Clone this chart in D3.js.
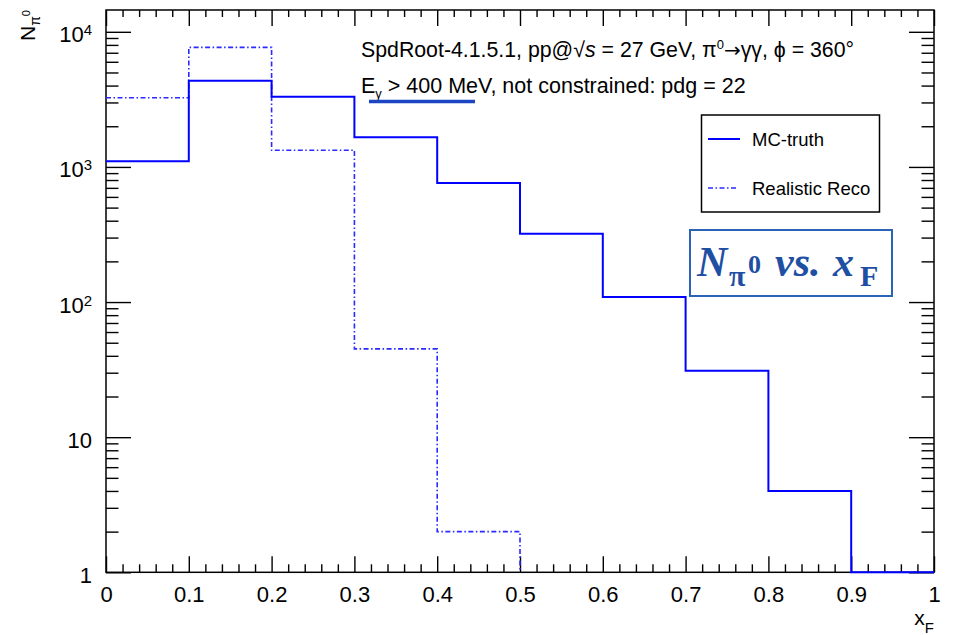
<!DOCTYPE html>
<html>
<head>
<meta charset="utf-8">
<script src="https://cdn.jsdelivr.net/npm/d3@7"></script>
<style>
  body { margin: 0; background: #fff; }
  svg { display: block; font-family: "Liberation Sans", Arial, Helvetica, sans-serif; }
</style>
</head>
<body>
<svg id="chart" width="954" height="635"></svg>
<script>
// histogram contents, bins of 0.1 in x_F
const binEdges = [0, 0.1, 0.2, 0.3, 0.4, 0.5, 0.6, 0.7, 0.8, 0.9, 1.0];
const mcTruth = [1100, 4340, 3300, 1660, 760, 320, 109, 31, 4, 0];
const realisticReco = [3250, 7670, 1330, 45, 2, 0, 0, 0, 0, 0];

const xMajorTicks = [0, 0.1, 0.2, 0.3, 0.4, 0.5, 0.6, 0.7, 0.8, 0.9, 1];
const yMajorTicks = [1, 10, 100, 1000, 10000];
const yDomain = [1, 14500];

const legendLabels = ["MC-truth", "Realistic Reco"];

const padL = 106, padR = 934, padT = 10, padB = 572.3;

const svg = d3.select("#chart");

const x = d3.scaleLinear().domain([0, 1]).range([padL, padR]);
const y = d3.scaleLog().domain(yDomain).range([padB, padT]);

function yv(v) {
    return v > 0 ? y(v) : padB;
}

// step outline for a histogram, stops after last filled bin
function histPoints(vals, dropAtEnd) {
    let last = vals.length - 1;
    if (dropAtEnd) {
        while (last > 0 && vals[last] <= 0) last--;
    }
    const pts = [];
    for (let i = 0; i <= last; i++) pts.push([binEdges[i], vals[i]]);
    if (dropAtEnd) pts.push([binEdges[last + 1], 0]);
    else pts.push([binEdges[last + 1], vals[last]]);
    return pts;
}

// ---- axes (ROOT style, ticks inside on all four sides)
const xMinor = x.ticks(50).filter(t => !xMajorTicks.some(m => Math.abs(m - t) < 1e-9));
const yMinor = y.ticks().filter(t => !yMajorTicks.includes(t));

function styleAxis(g) {
    g.select(".domain").remove();
    g.selectAll("line").attr("stroke", "#000").attr("stroke-width", 1.4);
}

const xAxis = svg.append("g")
    .attr("transform", `translate(0,${padB})`)
    .call(d3.axisBottom(x).tickValues(xMajorTicks).tickSizeInner(-16).tickSizeOuter(0)
        .tickPadding(14).tickFormat(d => d3.format("")(d)))
    .call(styleAxis);
xAxis.selectAll("text")
    .attr("font-size", 22)
    .attr("font-family", "Liberation Sans, Arial, sans-serif")
    .attr("fill", "#000");

svg.append("g")
    .attr("transform", `translate(0,${padB})`)
    .call(d3.axisBottom(x).tickValues(xMinor).tickSizeInner(-8).tickSizeOuter(0).tickFormat(""))
    .call(styleAxis);

svg.append("g")
    .attr("transform", `translate(0,${padT})`)
    .call(d3.axisTop(x).tickValues(xMajorTicks).tickSizeInner(-16).tickSizeOuter(0).tickFormat(""))
    .call(styleAxis);
svg.append("g")
    .attr("transform", `translate(0,${padT})`)
    .call(d3.axisTop(x).tickValues(xMinor).tickSizeInner(-7).tickSizeOuter(0).tickFormat(""))
    .call(styleAxis);

const yAxis = svg.append("g")
    .attr("transform", `translate(${padL},0)`)
    .call(d3.axisLeft(y).tickValues(yMajorTicks).tickSizeInner(-25).tickSizeOuter(0)
        .tickPadding(14).tickFormat(""))
    .call(styleAxis);
yAxis.selectAll(".tick text")
    .attr("font-size", 22)
    .attr("dy", 10)
    .attr("fill", "#000")
    .each(function(d) {
        const t = d3.select(this);
        const e = Math.round(Math.log10(d));
        if (e < 2) {
            t.text(d);
        } else {
            t.append("tspan").text("10");
            t.append("tspan").attr("font-size", 15).attr("dy", -7).text(e);
        }
    });

svg.append("g")
    .attr("transform", `translate(${padL},0)`)
    .call(d3.axisLeft(y).tickValues(yMinor).tickSizeInner(-12.5).tickSizeOuter(0).tickFormat(""))
    .call(styleAxis);

svg.append("g")
    .attr("transform", `translate(${padR},0)`)
    .call(d3.axisRight(y).tickValues(yMajorTicks).tickSizeInner(-25).tickSizeOuter(0).tickFormat(""))
    .call(styleAxis);
svg.append("g")
    .attr("transform", `translate(${padR},0)`)
    .call(d3.axisRight(y).tickValues(yMinor).tickSizeInner(-12.5).tickSizeOuter(0).tickFormat(""))
    .call(styleAxis);

// frame
svg.append("rect")
    .attr("x", padL).attr("y", padT)
    .attr("width", padR - padL).attr("height", padB - padT)
    .attr("fill", "none")
    .attr("stroke", "#000")
    .attr("stroke-width", 1.5);

// histograms, drawn over the frame like ROOT does
const stepLine = d3.line()
    .x(d => x(d[0]))
    .y(d => yv(d[1]))
    .curve(d3.curveStepAfter);

svg.append("path")
    .attr("d", stepLine(histPoints(realisticReco, true)))
    .attr("fill", "none")
    .attr("stroke", "#2a2aff")
    .attr("stroke-width", 1.6)
    .attr("stroke-dasharray", "5,2.5,1.5,2.5");

svg.append("path")
    .attr("d", stepLine(histPoints(mcTruth, false)))
    .attr("fill", "none")
    .attr("stroke", "#0000ff")
    .attr("stroke-width", 2);

// axis titles
const xTitle = svg.append("text")
    .attr("x", padR).attr("y", 625)
    .attr("text-anchor", "end")
    .attr("font-size", 21);
xTitle.append("tspan").text("x");
xTitle.append("tspan").attr("font-size", 15).attr("dy", 8).text("F");

const yTitle = svg.append("text")
    .attr("transform", `translate(35,${padT}) rotate(-90)`)
    .attr("text-anchor", "end")
    .attr("font-size", 21);
yTitle.append("tspan").text("N");
yTitle.append("tspan").attr("font-size", 14).attr("dy", 5).text("π");
yTitle.append("tspan").attr("font-size", 11).attr("dy", -10).text("0");

// header text
const line1 = svg.append("text")
    .attr("x", 361).attr("y", 56.5)
    .attr("font-size", 21.3);
line1.append("tspan").text("SpdRoot-4.1.5.1, pp@");
line1.append("tspan").text("√");
line1.append("tspan").attr("font-style", "italic").text("s");
line1.append("tspan").text(" = 27 GeV, π");
line1.append("tspan").attr("font-size", 13).attr("dy", -8).text("0");
line1.append("tspan").attr("dy", 8).attr("font-family", "DejaVu Sans, sans-serif").attr("font-size", 20).text("→");
line1.append("tspan").text("γγ, ϕ = 360°");

const line2 = svg.append("text")
    .attr("x", 361).attr("y", 93)
    .attr("font-size", 21.5);
line2.append("tspan").text("E");
line2.append("tspan").attr("font-size", 13).attr("dy", 5).text("γ");
line2.append("tspan").attr("dy", -5).text(" > 400 MeV, not constrained: pdg = 22");

svg.append("line")
    .attr("x1", 369).attr("x2", 475)
    .attr("y1", 101.5).attr("y2", 101.5)
    .attr("stroke", "#1c45c4")
    .attr("stroke-width", 3.5);

// legend
const legend = svg.append("g");
legend.append("rect")
    .attr("x", 701.5).attr("y", 115)
    .attr("width", 178).attr("height", 97)
    .attr("fill", "#fff")
    .attr("stroke", "#000")
    .attr("stroke-width", 1.5);

const legendStyles = [
    { color: "#0000ff", dash: null, width: 2, x2: 740 },
    { color: "#2a2aff", dash: "5,2.5,1.5,2.5", width: 1.6, x2: 736 }
];
legendLabels.forEach((label, i) => {
    const ly = 139 + i * 49;
    legend.append("line")
        .attr("x1", 708).attr("x2", legendStyles[i].x2)
        .attr("y1", ly).attr("y2", ly)
        .attr("stroke", legendStyles[i].color)
        .attr("stroke-width", legendStyles[i].width)
        .attr("stroke-dasharray", legendStyles[i].dash);
    legend.append("text")
        .attr("x", 752).attr("y", ly + 7)
        .attr("font-size", 18.5)
        .text(label);
});

// boxed title annotation
const note = svg.append("g");
note.append("rect")
    .attr("x", 690).attr("y", 230)
    .attr("width", 202).attr("height", 66)
    .attr("fill", "#fff")
    .attr("stroke", "#2a63b8")
    .attr("stroke-width", 2);

const noteText = note.append("text")
    .attr("y", 276)
    .attr("font-family", "Liberation Serif, 'DejaVu Serif', serif")
    .attr("font-weight", "bold")
    .attr("font-style", "italic")
    .attr("fill", "#1f4fa3");
noteText.append("tspan").attr("x", 697).attr("font-size", 42).text("N");
noteText.append("tspan").attr("x", 729).attr("y", 286).attr("font-style", "normal").attr("font-size", 30).text("π");
noteText.append("tspan").attr("x", 748).attr("y", 273).attr("font-style", "normal").attr("font-size", 26).text("0");
noteText.append("tspan").attr("x", 775).attr("y", 276).attr("font-size", 42).text("vs.");
noteText.append("tspan").attr("x", 833).attr("y", 276).attr("font-size", 42).text("x");
noteText.append("tspan").attr("x", 860).attr("y", 286).attr("font-style", "normal").attr("font-size", 30).text("F");
</script>
</body>
</html>
